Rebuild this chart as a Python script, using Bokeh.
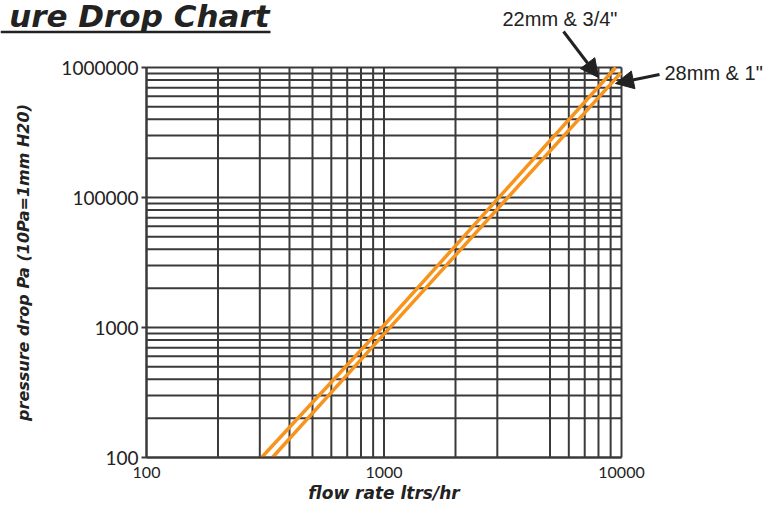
from bokeh.plotting import figure
from bokeh.models import FixedTicker, Label, Arrow, NormalHead
from bokeh.embed import file_html
from bokeh.resources import INLINE

# ---- data ----
flow_22 = [305, 1000, 9460]          # ltrs/hr, 22mm & 3/4"
drop_22 = [1000, 10400, 1000000]     # Pa
flow_28 = [339, 1000, 9940]          # ltrs/hr, 28mm & 1"
drop_28 = [1000, 8900, 910000]       # Pa

x_ticks = [100, 1000, 10000]
x_tick_labels = ["100", "1000", "10000"]
y_ticks = [1000, 10000, 100000, 1000000]
y_tick_labels = ["100", "1000", "100000", "1000000"]

x_grid = [100, 200, 300, 400, 500, 600, 700, 800, 900,
          1000, 2000, 3000, 5000, 6000, 7000, 8000, 9000, 10000]
y_grid = [1000, 2000, 3000, 4000, 5000, 6000, 7000, 8000, 9000,
          10000, 20000, 30000, 40000, 50000, 60000, 70000, 80000, 90000,
          100000, 200000, 300000, 400000, 500000, 600000, 700000, 800000, 900000,
          1000000]

GRID = "#3a3a3a"
ORANGE = "#f7941d"
DARK = "#222222"
TITLE_FONT = "DejaVu Sans"

# ---- layout: the frame fills the whole canvas; the chart area sits inside it
W, H = 763, 502
XL, XR = 146, 621    # pixel columns of x = 100 and x = 10000
YT, YB = 67, 457     # pixel rows of y = 1e6 and y = 1e3
DX = (XR - XL) / 2.0     # pixels per decade, x
DY = (YB - YT) / 3.0     # pixels per decade, y

def fx(px):
    return 10 ** (2 + (px - XL) / DX)

def fy(py):
    return 10 ** (6 - (py - YT) / DY)

p = figure(width=W, height=H, x_axis_type="log", y_axis_type="log",
           x_range=(fx(0), fx(W)), y_range=(fy(H), fy(0)),
           output_backend="svg", toolbar_location=None,
           min_border=0, min_border_left=0, min_border_right=0,
           min_border_top=0, min_border_bottom=0)
p.title.visible = False
p.outline_line_color = None
p.xgrid.visible = False
p.ygrid.visible = False

# grid lines
p.segment(x0=x_grid, x1=x_grid, y0=[y_grid[0]] * len(x_grid), y1=[y_grid[-1]] * len(x_grid),
          line_color=GRID, line_width=2)
p.segment(x0=[x_grid[0]] * len(y_grid), x1=[x_grid[-1]] * len(y_grid), y0=y_grid, y1=y_grid,
          line_color=GRID, line_width=2)

# axes pinned to the chart corner
p.xaxis.fixed_location = y_grid[0]
p.yaxis.fixed_location = x_grid[0]
p.xaxis.bounds = (x_grid[0], x_grid[-1])
p.yaxis.bounds = (y_grid[0], y_grid[-1])
p.xaxis.ticker = FixedTicker(ticks=x_ticks, minor_ticks=[])
p.yaxis.ticker = FixedTicker(ticks=y_ticks, minor_ticks=[])
p.xaxis.major_label_overrides = {t: l for t, l in zip(x_ticks, x_tick_labels)}
p.yaxis.major_label_overrides = {t: l for t, l in zip(y_ticks, y_tick_labels)}

for ax in (p.xaxis, p.yaxis):
    ax.axis_line_color = GRID
    ax.axis_line_width = 2
    ax.major_tick_in = 0
    ax.minor_tick_line_color = None
    ax.major_label_text_color = DARK
    ax.major_label_text_font = "Lato"
    ax.axis_label_text_font = TITLE_FONT
    ax.axis_label_text_font_style = "bold italic"
    ax.axis_label_text_color = DARK

p.xaxis.major_tick_out = 0
p.xaxis.major_label_text_font_size = "16px"
p.xaxis.major_label_standoff = 9
p.xaxis.axis_label = "flow rate ltrs/hr"
p.xaxis.axis_label_text_font_size = "17px"
p.xaxis.axis_label_standoff = 2

p.yaxis.major_tick_out = 5
p.yaxis.major_tick_line_color = GRID
p.yaxis.major_tick_line_width = 2
p.yaxis.major_label_text_font_size = "19px"
p.yaxis.major_label_standoff = 3
p.yaxis.axis_label = "pressure drop Pa (10Pa=1mm H20)"
p.yaxis.axis_label_text_font_size = "16px"
p.yaxis.axis_label_standoff = 25

# the two pipe curves
p.line(flow_22, drop_22, line_color=ORANGE, line_width=3.5)
p.line(flow_28, drop_28, line_color=ORANGE, line_width=3.5)

# ---- annotations ----
p.add_layout(Label(x=fx(269), y=fy(15.5), text="ure Drop Chart",
                   text_align="right", text_baseline="middle",
                   text_font=TITLE_FONT, text_font_style="bold italic",
                   text_font_size="31px", text_color=DARK))
p.add_layout(Arrow(start=None, end=None,
                   x_start=fx(0), y_start=fy(31.5), x_end=fx(270), y_end=fy(31.5),
                   line_color=DARK, line_width=2.5))

p.add_layout(Label(x=fx(502), y=fy(18), text='22mm & 3/4"',
                   text_align="left", text_baseline="middle",
                   text_font="Liberation Sans", text_font_size="20px",
                   text_color=DARK))
p.add_layout(Label(x=fx(664), y=fy(72), text='28mm & 1"',
                   text_align="left", text_baseline="middle",
                   text_font="Liberation Sans", text_font_size="20px",
                   text_color=DARK))

p.add_layout(Arrow(end=NormalHead(size=18, fill_color=DARK, line_color=DARK),
                   x_start=fx(563), y_start=fy(31), x_end=fx(598), y_end=fy(77),
                   line_color=DARK, line_width=3))
p.add_layout(Arrow(end=NormalHead(size=18, fill_color=DARK, line_color=DARK),
                   x_start=fx(659), y_start=fy(74), x_end=fx(615), y_end=fy(83),
                   line_color=DARK, line_width=3))

open("out.html", "w").write(file_html(p, INLINE))
